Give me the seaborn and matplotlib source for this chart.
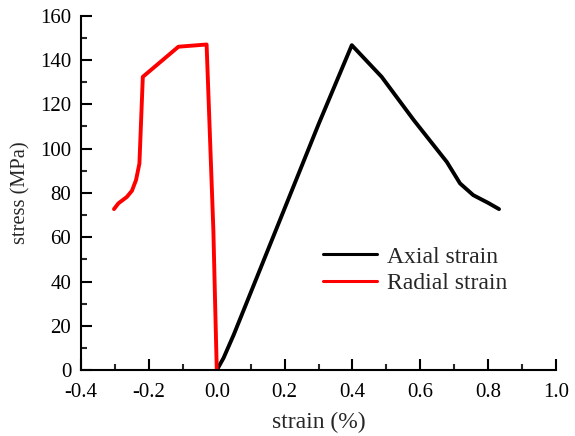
import matplotlib
matplotlib.use("Agg")
import matplotlib.pyplot as plt
import seaborn as sns
import pandas as pd
from matplotlib.ticker import MultipleLocator

axial_strain = [0.0, 0.02, 0.05, 0.10, 0.20, 0.30, 0.398, 0.486, 0.58, 0.678, 0.717, 0.756, 0.80, 0.832]
axial_stress = [0.0, 5.5, 16.0, 35.0, 73.0, 111.0, 146.7, 132.4, 113.0, 94.0, 84.3, 79.0, 75.5, 72.7]

radial_strain = [0.0, -0.005, -0.010, -0.020, -0.030, -0.113, -0.218, -0.228, -0.238, -0.250, -0.265, -0.290, -0.303]
radial_stress = [0.0, 31.0, 63.0, 105.0, 147.0, 146.0, 132.4, 93.3, 85.8, 81.0, 78.2, 75.3, 72.7]

labels = ["Axial strain", "Radial strain"]
colors = ["#000000", "#ff0000"]

df = pd.concat([
    pd.DataFrame({"strain": axial_strain, "stress": axial_stress, "series": labels[0]}),
    pd.DataFrame({"strain": radial_strain, "stress": radial_stress, "series": labels[1]}),
])

sns.set_style("ticks")
plt.rcParams["font.family"] = ["Liberation Serif", "DejaVu Serif"]

fig = plt.figure(figsize=(5.75, 4.36), dpi=100)
ax = fig.add_axes([0.141, 0.151, 0.826, 0.813])

sns.lineplot(data=df, x="strain", y="stress", hue="series", palette=dict(zip(labels, colors)),
             sort=False, estimator=None, linewidth=2.8, ax=ax)

ax.set_xlim(-0.4, 1.0)
ax.set_ylim(0, 160)
ax.xaxis.set_major_locator(MultipleLocator(0.2))
ax.xaxis.set_minor_locator(MultipleLocator(0.1))
ax.yaxis.set_major_locator(MultipleLocator(20))
ax.yaxis.set_minor_locator(MultipleLocator(10))
ax.xaxis.set_major_formatter(matplotlib.ticker.FuncFormatter(lambda v, p: f"{v:.1f}"))
ax.tick_params(which="major", direction="in", length=8, width=1.5, labelsize=15, colors="black")
ax.tick_params(axis="y", which="major", pad=7)
ax.tick_params(axis="x", which="major", pad=9)
ax.tick_params(which="minor", direction="in", length=4.5, width=1.5)
for s in ["top", "right"]:
    ax.spines[s].set_visible(False)
for s in ["left", "bottom"]:
    ax.spines[s].set_linewidth(1.5)
    ax.spines[s].set_color("black")

ax.set_xlabel("strain (%)", fontsize=17, labelpad=7)
ax.set_ylabel("stress (MPa)", fontsize=14.7, labelpad=7)

leg = ax.legend(loc="upper left", bbox_to_anchor=(0.465, 0.41), frameon=False, fontsize=17,
                handlelength=2.3, handletextpad=0.4, labelspacing=0.22)
for line in leg.get_lines():
    line.set_linewidth(2.2)

fig.savefig("out.png", dpi=100)
